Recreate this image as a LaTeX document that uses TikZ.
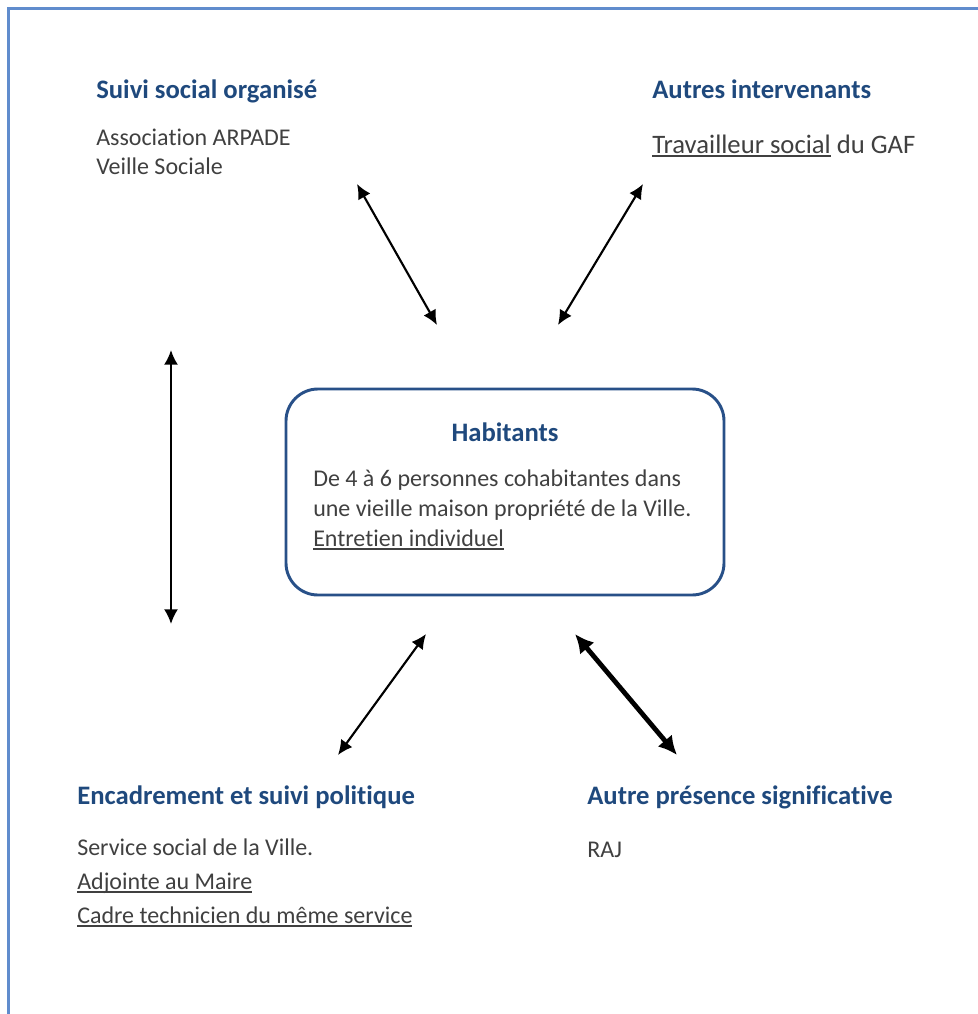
\documentclass[tikz,border=0pt]{standalone}
\usepackage{fontspec}
\setmainfont{Carlito}[Ligatures=NoCommon]
\usetikzlibrary{arrows.meta}

\definecolor{headblue}{RGB}{31,73,125}
\definecolor{bodygray}{RGB}{64,64,64}
\definecolor{frameblue}{RGB}{96,140,205}
\definecolor{boxblue}{RGB}{40,80,136}

% underline drawn as a rule just below the baseline
\newsavebox\ulinebox
\newcommand\uline[1]{\sbox\ulinebox{#1}\rlap{\rule[-2.8pt]{\wd\ulinebox}{1.1pt}}\usebox\ulinebox}

\tikzset{
  heading/.style={anchor=base west, inner sep=0pt, text=headblue,
    font=\fontsize{20}{24}\selectfont\bfseries},
  % multi-line blocks are placed by the baseline of their last line
  bodytext/.style={anchor=base west, inner sep=0pt, text=bodygray, align=left,
    font=\fontsize{18}{21.75}\selectfont},
  link/.style={line width=1.6pt, {Latex[length=11pt,width=10.5pt]}-{Latex[length=11pt,width=10.5pt]}},
  biglink/.style={line width=3.6pt, {Latex[length=14pt,width=14pt]}-{Latex[length=14pt,width=14pt]}},
  habbox/.style={draw=boxblue, line width=2.2pt, rounded corners=24pt,
    minimum width=438*0.75pt, minimum height=206*0.75pt, inner sep=0pt}
}

\begin{document}
\begin{tikzpicture}[x=0.75pt, y=-0.75pt]
\useasboundingbox (0,0) rectangle (978,1014);

% page frame (open on the right and at the bottom)
\draw[frameblue, line width=1.8pt] (8.5,1020) -- (8.5,8.5) -- (985,8.5);

% top left group
\node[heading] (suivi) at (96,98) {Suivi social organisé};
\node[bodytext] (suivib) at (96,174) {Association ARPADE\\Veille Sociale};

% top right group
\node[heading] (autres) at (652,98) {Autres intervenants};
\node[bodytext, font=\fontsize{20}{24}\selectfont] (autresb) at (652,153) {\uline{Travailleur social} du GAF};

% central box
\node[habbox] (hab) at (505,492) {};
\node[heading, anchor=base] (habt) at (505,441) {Habitants};
\node[bodytext, font=\fontsize{18}{22.2}\selectfont] (habb) at (313,546)
  {De 4 à 6 personnes cohabitantes dans\\une vieille maison propriété de la Ville.\\\uline{Entretien individuel}};

% bottom left group
\node[heading] (enc) at (77,804) {Encadrement et suivi politique};
\node[bodytext, font=\fontsize{18}{25.5}\selectfont] (encb) at (77,923)
  {Service social de la Ville.\\\uline{Adjointe au Maire}\\\uline{Cadre technicien du même service}};

% bottom right group
\node[heading] (pres) at (587,804) {Autre présence significative};
\node[bodytext] (presb) at (587,857) {RAJ};

% arrow end points
\coordinate (a1s) at (357,184);
\coordinate (a1e) at (437,325);
\coordinate (a2s) at (643,184);
\coordinate (a2e) at (558,325);
\coordinate (a3s) at (171,350);
\coordinate (a3e) at (171,624);
\coordinate (a4s) at (426,634);
\coordinate (a4e) at (338,755);
\coordinate (a5s) at (575,634);
\coordinate (a5e) at (677,755);

\draw[link] (a1s) -- (a1e);
\draw[link] (a2s) -- (a2e);
\draw[link] (a3s) -- (a3e);
\draw[link] (a4s) -- (a4e);
\draw[biglink] (a5s) -- (a5e);
\end{tikzpicture}
\end{document}
